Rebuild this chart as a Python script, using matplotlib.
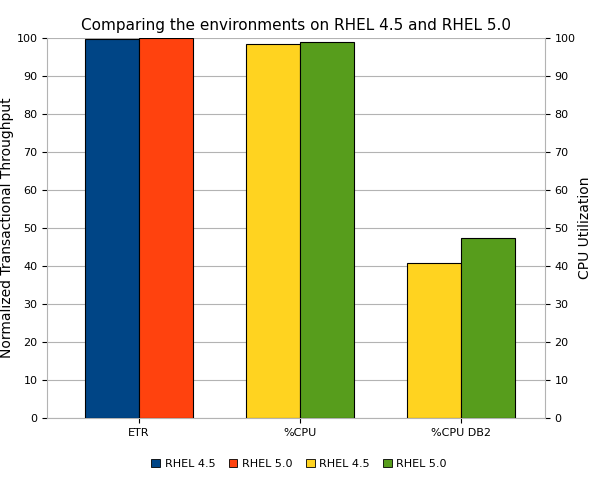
import matplotlib
matplotlib.use("Agg")
import matplotlib.pyplot as plt
import numpy as np
from matplotlib.patches import Patch

categories = ["ETR", "%CPU", "%CPU DB2"]
etr_45 = [99.8]
etr_50 = [100.0]
cpu_45 = [98.5, 40.7]
cpu_50 = [99.0, 47.5]
legend_labels = ["RHEL 4.5", "RHEL 5.0", "RHEL 4.5", "RHEL 5.0"]
colors = ["#004586", "#ff420e", "#ffd320", "#579d1c"]

fig = plt.figure(figsize=(5.98, 4.79), dpi=100)
ax = fig.add_axes([0.079, 0.127, 0.832, 0.794])
w = 0.335
x = np.arange(len(categories))
kw = dict(width=w, edgecolor="black", linewidth=0.8, zorder=3)
ax.bar(x[:1] - w / 2, etr_45, color=colors[0], **kw)
ax.bar(x[:1] + w / 2, etr_50, color=colors[1], **kw)
ax.bar(x[1:] - w / 2, cpu_45, color=colors[2], **kw)
ax.bar(x[1:] + w / 2, cpu_50, color=colors[3], **kw)

ax.set_xlim(-0.57, 2.52)
ax.set_ylim(0, 100)
ax.set_yticks(range(0, 101, 10))
ax.set_xticks(x)
ax.set_xticklabels(categories, fontsize=8)
ax.tick_params(axis="y", labelsize=8)
ax.yaxis.grid(True, color="#b3b3b3", linewidth=0.8, zorder=0)
for s in ["top", "right"]:
    ax.spines[s].set_visible(False)
ax.spines["left"].set_color("#b3b3b3")
ax.spines["bottom"].set_color("#b3b3b3")
ax.set_ylabel("Normalized Transactional Throughput", fontsize=10, labelpad=2)

ax2 = ax.twinx()
ax2.set_ylim(0, 100)
ax2.set_yticks(range(0, 101, 10))
ax2.tick_params(axis="y", labelsize=8)
for s in ["top", "left", "bottom"]:
    ax2.spines[s].set_visible(False)
ax2.spines["right"].set_color("#b3b3b3")
ax2.set_ylabel("CPU Utilization", fontsize=10, labelpad=2)

ax.set_title("Comparing the environments on RHEL 4.5 and RHEL 5.0", fontsize=11)
handles = [Patch(facecolor=c, edgecolor="black", linewidth=0.6) for c in colors]
fig.legend(handles, legend_labels, loc="lower center", ncol=4, frameon=False,
           fontsize=8, bbox_to_anchor=(0.5, 0.0), handlelength=0.8,
           handleheight=0.8, columnspacing=1.2, handletextpad=0.4)
fig.savefig("out.png", dpi=100)
